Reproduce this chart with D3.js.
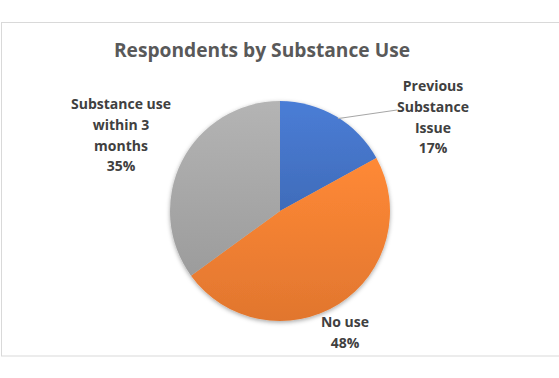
<!DOCTYPE html>
<html>
<head>
<meta charset="utf-8">
<script src="https://cdn.jsdelivr.net/npm/d3@7"></script>
<style>
    body { margin: 0; background: #fff; }
    text { font-family: "Open Sans", "Liberation Sans", sans-serif; }
</style>
</head>
<body>
<div id="chart"></div>
<script>
var categories = ["Previous Substance Issue", "No use", "Substance use within 3 months"];
var values = [17, 48, 35];
var labelLines = [
    ["Previous", "Substance", "Issue", "17%"],
    ["No use", "48%"],
    ["Substance use", "within 3", "months", "35%"]
];
var colors = ["#4472C4", "#ED7D31", "#A5A5A5"];

var width = 559,
    height = 378;

var svg = d3.select("#chart")
    .append("svg")
    .attr("width", width)
    .attr("height", height);

// chart frame
svg.append("rect")
    .attr("x", 1.5)
    .attr("y", 22.5)
    .attr("width", 570)
    .attr("height", 333.5)
    .attr("fill", "#fff")
    .attr("stroke", "#d9d9d9")
    .attr("stroke-width", 1);

svg.append("text")
    .attr("x", 262)
    .attr("y", 57)
    .attr("text-anchor", "middle")
    .attr("fill", "#595959")
    .attr("font-size", 19.2)
    .attr("font-weight", "bold")
    .text("Respondents by Substance Use");

var defs = svg.append("defs");

// soft shadow like excel
var filter = defs.append("filter").attr("id", "shadow")
    .attr("x", "-20%").attr("y", "-20%").attr("width", "140%").attr("height", "140%");
filter.append("feDropShadow")
    .attr("dx", 0).attr("dy", 1.5).attr("stdDeviation", 2)
    .attr("flood-color", "#000").attr("flood-opacity", 0.35);

colors.forEach(function (c, i) {
    var g = defs.append("linearGradient")
        .attr("id", "grad" + i)
        .attr("x1", 0).attr("y1", 0).attr("x2", 0).attr("y2", 1);
    g.append("stop").attr("offset", "0%").attr("stop-color", d3.color(c).brighter(0.25));
    g.append("stop").attr("offset", "100%").attr("stop-color", d3.color(c).darker(0.15));
});

var cx = 280, cy = 211, radius = 110;

var pie = d3.pie().sort(null).value(function (d) { return d; });
var arc = d3.arc().innerRadius(0).outerRadius(radius);

var g = svg.append("g")
    .attr("transform", "translate(" + cx + "," + cy + ")");

g.append("g")
    .attr("filter", "url(#shadow)")
    .selectAll("path")
    .data(pie(values))
    .enter()
    .append("path")
    .attr("d", arc)
    .attr("fill", function (d, i) { return "url(#grad" + i + ")"; });

// label positions relative to center (baseline of first line)
var labelPos = [[153, -120], [65, 116], [-159, -102]];

// leader line for first slice
var a0 = pie(values)[0];
var mid = (a0.startAngle + a0.endAngle) / 2 + 0.025;
g.append("line")
    .attr("x1", Math.sin(mid) * (radius - 1))
    .attr("y1", -Math.cos(mid) * (radius - 1))
    .attr("x2", 117)
    .attr("y2", -101)
    .attr("stroke", "#a6a6a6")
    .attr("stroke-width", 1);

labelLines.forEach(function (lines, i) {
    var t = g.append("text")
        .attr("text-anchor", "middle")
        .attr("fill", "#404040")
        .attr("font-size", 14)
        .attr("font-weight", "bold");
    lines.forEach(function (l, j) {
        t.append("tspan")
            .attr("x", labelPos[i][0])
            .attr("y", labelPos[i][1] + j * 20.8)
            .text(l);
    });
});
</script>
</body>
</html>
